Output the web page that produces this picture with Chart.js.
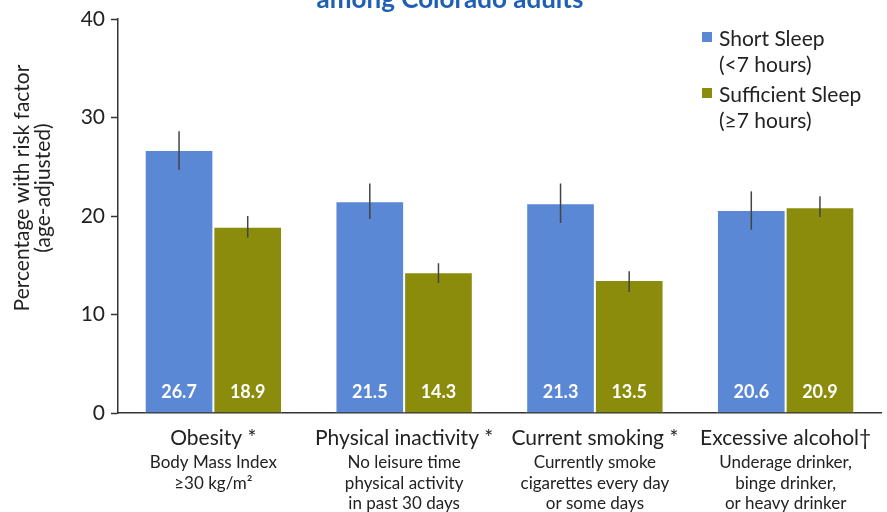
<!DOCTYPE html>
<html>
<head>
<meta charset="utf-8">
<script src="https://cdn.jsdelivr.net/npm/chart.js@4.4.1/dist/chart.umd.min.js"></script>
<style>
  html, body { margin: 0; padding: 0; background: #fff; }
  #wrap { width: 887px; height: 512px; position: relative; }
</style>
</head>
<body>
<div id="wrap"><canvas id="chart" width="887" height="512"></canvas></div>
<script>
// data
const categories = ['Obesity *', 'Physical inactivity *', 'Current smoking *', 'Excessive alcohol\u2020'];
const subLabels = [
  ['Body Mass Index', '\u226530 kg/m\u00b2'],
  ['No leisure time', 'physical activity', 'in past 30 days'],
  ['Currently smoke', 'cigarettes every day', 'or some days'],
  ['Underage drinker,', 'binge drinker,', 'or heavy drinker']
];
const shortSleep = [26.7, 21.5, 21.3, 20.6];
const shortLow   = [24.7, 19.7, 19.3, 18.6];
const shortHigh  = [28.6, 23.3, 23.3, 22.5];
const suffSleep  = [18.9, 14.3, 13.5, 20.9];
const suffLow    = [17.8, 13.2, 12.3, 19.9];
const suffHigh   = [20.0, 15.2, 14.4, 22.0];
const yTicks = [0, 10, 20, 30, 40];

const BLUE = '#5b88d4', OLIVE = '#8b8c0b', INK = '#222';
const FONT = 'Lato, "Open Sans", sans-serif';

// error bars + value labels + custom x labels, title, legend, y title
const decor = {
  id: 'decor',
  afterDatasetsDraw(chart) {
    const c = chart.ctx, y = chart.scales.y, x = chart.scales.x;
    const lows = [shortLow, suffLow], highs = [shortHigh, suffHigh];
    c.save();
    chart.data.datasets.forEach((ds, di) => {
      chart.getDatasetMeta(di).data.forEach((bar, i) => {
        // error bar
        c.strokeStyle = '#444'; c.lineWidth = 1.5;
        c.beginPath();
        c.moveTo(bar.x, y.getPixelForValue(highs[di][i]));
        c.lineTo(bar.x, y.getPixelForValue(lows[di][i]));
        c.stroke();
        // value label
        c.fillStyle = '#fff';
        c.font = 'bold 18px ' + FONT;
        c.textAlign = 'center'; c.textBaseline = 'middle';
        c.fillText(ds.data[i].toFixed(1), bar.x, y.getPixelForValue(0) - 21);
      });
    });

    // category labels
    categories.forEach((cat, i) => {
      const cx = x.getPixelForValue(i);
      c.fillStyle = INK; c.textAlign = 'center'; c.textBaseline = 'alphabetic';
      c.font = '21px ' + FONT;
      c.fillText(cat, cx, 445);
      c.font = '17px ' + FONT;
      subLabels[i].forEach((s, k) => c.fillText(s, cx, 468 + k * 20.5));
    });

    // title (only lower line visible)
    c.fillStyle = '#1f5fb4';
    c.font = 'bold 26px ' + FONT;
    c.textAlign = 'center'; c.textBaseline = 'alphabetic';
    c.fillText('among Colorado adults', 450, 8);

    // y title
    c.save();
    c.translate(22, 188);
    c.rotate(-Math.PI / 2);
    c.fillStyle = INK; c.font = '21px ' + FONT;
    c.textAlign = 'center'; c.textBaseline = 'middle';
    c.fillText('Percentage with risk factor', 0, 0);
    c.fillText('(age-adjusted)', 0, 21);
    c.restore();

    // legend
    const legend = [
      { color: BLUE, lines: ['Short Sleep', '(<7 hours)'], top: 32 },
      { color: OLIVE, lines: ['Sufficient Sleep', '(\u22657 hours)'], top: 88 }
    ];
    legend.forEach(l => {
      c.fillStyle = l.color;
      c.fillRect(702, l.top, 10, 10);
      c.fillStyle = INK; c.font = '21px ' + FONT; c.textAlign = 'left';
      c.fillText(l.lines[0], 719, l.top + 14);
      c.fillText(l.lines[1], 719, l.top + 40);
    });
    c.restore();
  }
};

new Chart(document.getElementById('chart'), {
  type: 'bar',
  data: {
    labels: categories,
    datasets: [
      { label: 'Short Sleep (<7 hours)', data: shortSleep, backgroundColor: BLUE,
        borderColor: '#fff', borderWidth: 1, borderSkipped: 'bottom' },
      { label: 'Sufficient Sleep (\u22657 hours)', data: suffSleep, backgroundColor: OLIVE,
        borderColor: '#fff', borderWidth: 1, borderSkipped: 'bottom' }
    ]
  },
  options: {
    responsive: false,
    animation: false,
    layout: { padding: { top: 19, right: 6, left: 0, bottom: 0 } },
    plugins: { legend: { display: false }, tooltip: { enabled: false }, title: { display: false } },
    datasets: { bar: { categoryPercentage: 0.72, barPercentage: 1.0 } },
    scales: {
      x: {
        grid: { display: false },
        border: { display: true, color: '#333', width: 1.5 },
        ticks: { display: false },
        afterFit: s => { s.height = 99; }
      },
      y: {
        min: 0, max: 40,
        afterBuildTicks: s => { s.ticks = yTicks.map(v => ({ value: v })); },
        grid: { display: true, drawOnChartArea: false, drawTicks: true, tickLength: 7, color: '#333', tickWidth: 1.5 },
        border: { display: true, color: '#333', width: 1.5 },
        ticks: { color: INK, font: { family: FONT, size: 21 }, padding: 6 },
        afterFit: s => { s.width = 118; }
      }
    }
  },
  plugins: [decor]
});
</script>
</body>
</html>
